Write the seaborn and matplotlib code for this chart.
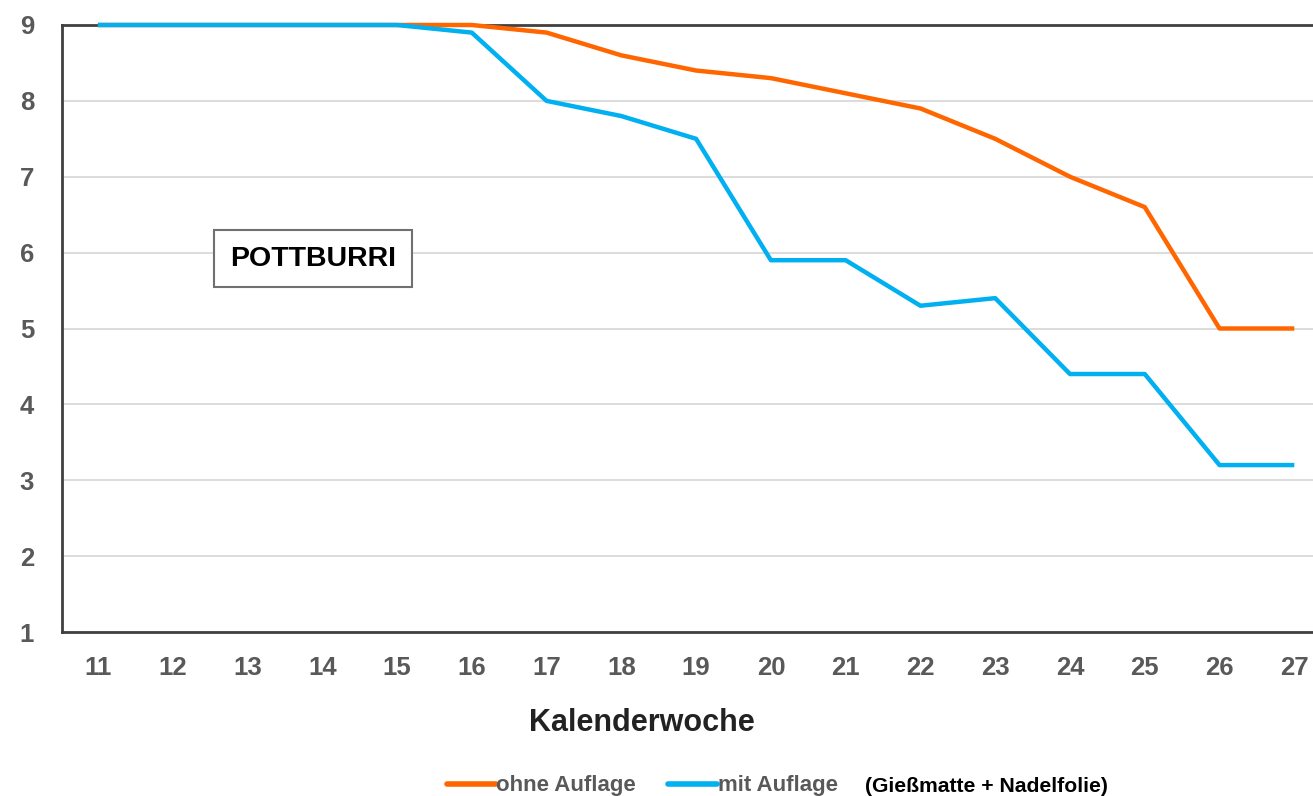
import matplotlib.pyplot as plt
import pandas as pd
import seaborn as sns

weeks = list(range(11, 28))
ohne_auflage = [9, 9, 9, 9, 9, 9, 8.9, 8.6, 8.4, 8.3, 8.1, 7.9, 7.5, 7.0, 6.6, 5.0, 5.0]
mit_auflage = [9, 9, 9, 9, 9, 8.9, 8.0, 7.8, 7.5, 5.9, 5.9, 5.3, 5.4, 4.4, 4.4, 3.2, 3.2]
series_names = ["ohne Auflage", "mit Auflage"]
series_colors = ["#FF6600", "#00B0F0"]
y_ticks = list(range(1, 10))

df = pd.concat([
    pd.DataFrame({"week": weeks, "value": ohne_auflage, "series": series_names[0]}),
    pd.DataFrame({"week": weeks, "value": mit_auflage, "series": series_names[1]}),
])

sns.set_theme(style="white")
plt.rcParams["font.family"] = ["Liberation Sans", "DejaVu Sans"]

fig = plt.figure(figsize=(13.13, 7.96), dpi=100)
ax = fig.add_axes([62 / 1313, 1 - 632 / 796, 1 - 62 / 1313, 607 / 796])

sns.lineplot(data=df, x="week", y="value", hue="series", hue_order=series_names,
             palette=series_colors, linewidth=3.2, legend=False, ax=ax,
             solid_capstyle="butt")
for line in ax.get_lines():
    line.set_clip_on(False)
    line.set_zorder(5)

ax.set_xlim(10.52, 27.25)
ax.set_ylim(1, 9)
ax.set_xticks(weeks)
ax.set_yticks(y_ticks)
ax.yaxis.grid(True, color="#D9D9D9", linewidth=1.3)
ax.set_axisbelow(True)
for side in ["left", "bottom", "top"]:
    ax.spines[side].set_color("#404040")
    ax.spines[side].set_linewidth(2)
ax.spines["right"].set_visible(False)
ax.tick_params(axis="both", length=0, labelsize=18.5, labelcolor="#595959")
ax.tick_params(axis="y", pad=20)
ax.tick_params(axis="x", pad=17)
for lab in ax.get_xticklabels() + ax.get_yticklabels():
    lab.set_fontweight("bold")

ax.set_xlabel("Kalenderwoche", fontsize=22, fontweight="bold", color="#222222")
ax.xaxis.set_label_coords((642 - 62) / 1251, -(723 - 632) / 607)
ax.xaxis.label.set_va("center")
ax.set_ylabel("")

ax.text((313 - 62) / 1251, (632 - 258.5) / 607, "POTTBURRI", transform=ax.transAxes,
        ha="center", va="center", fontsize=20.5, fontweight="bold", color="black",
        bbox=dict(boxstyle="square,pad=0.55", facecolor="white", edgecolor="#707070",
                  linewidth=1.5))

handles = [plt.Line2D([], [], color=c, linewidth=4) for c in series_colors]
leg = fig.legend(handles, series_names, loc="center left",
                 bbox_to_anchor=(447 / 1313, 1 - 786 / 796),
                 ncol=2, frameon=False, fontsize=16, handlelength=2.2, handletextpad=0.02,
                 columnspacing=1.45, borderaxespad=0, borderpad=0)
for t in leg.get_texts():
    t.set_color("#595959")
    t.set_fontweight("bold")
fig.text(865 / 1313, 1 - 786 / 796, "(Gießmatte + Nadelfolie)", ha="left", va="center",
         fontsize=15.2, fontweight="bold", color="black")

fig.savefig("out.png", dpi=100)
